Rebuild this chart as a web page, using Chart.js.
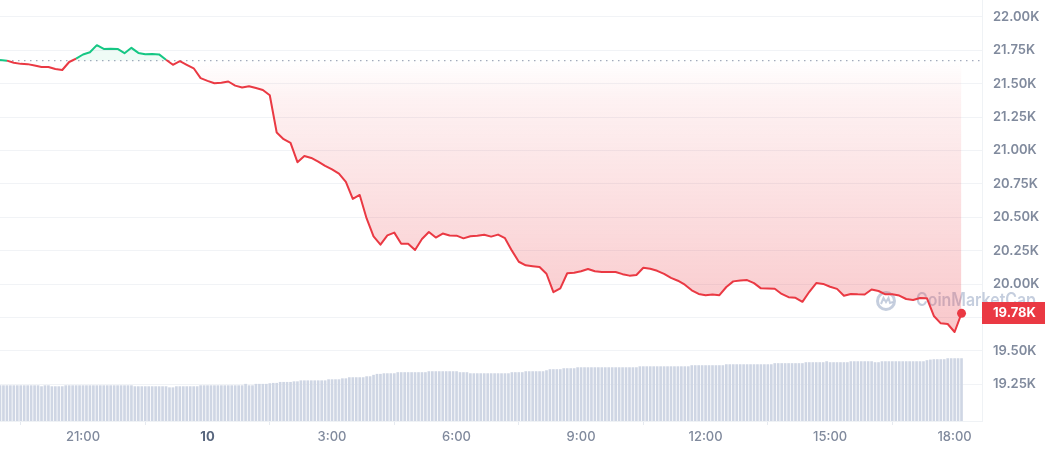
<!DOCTYPE html>
<html>
<head>
<meta charset="utf-8">
<script src="https://cdn.jsdelivr.net/npm/chart.js@4.4.0/dist/chart.umd.min.js"></script>
<style>
html, body { margin: 0; padding: 0; background: #fff; }
#wrap { position: relative; width: 1045px; height: 450px; }
</style>
</head>
<body>
<div id="wrap"><canvas id="priceChart"></canvas></div>
<script>
// time axis is in hours from 00:00 on the 9th, so 19 = 19:00, 24 = midnight ("10")
const startHour = 19;
const priceStepMin = 10;
const volumeStepMin = 5;
const openPrice = 21673;

const priceValues = [
    21678, 21673, 21657, 21649, 21647, 21636, 21626, 21625, 21610, 21603,
    21663, 21688, 21719, 21736, 21789, 21761, 21763, 21761, 21729, 21769,
    21731, 21721, 21723, 21720, 21680, 21642, 21669, 21642, 21616, 21542,
    21522, 21504, 21508, 21517, 21486, 21472, 21481, 21468, 21454, 21414,
    21135, 21085, 21057, 20913, 20959, 20945, 20917, 20886, 20859, 20828,
    20765, 20638, 20668, 20492, 20358, 20296, 20365, 20386, 20303, 20303,
    20256, 20338, 20391, 20349, 20379, 20364, 20363, 20343, 20359, 20362,
    20370, 20356, 20371, 20344, 20251, 20168, 20141, 20134, 20128, 20078,
    19940, 19969, 20082, 20086, 20097, 20114, 20097, 20091, 20092, 20091,
    20075, 20064, 20069, 20123, 20115, 20100, 20077, 20047, 20026, 19996,
    19954, 19927, 19918, 19923, 19918, 19979, 20021, 20028, 20031, 20008,
    19969, 19968, 19966, 19927, 19903, 19898, 19868, 19943, 20008, 20002,
    19981, 19965, 19914, 19927, 19924, 19923, 19960, 19949, 19924, 19924,
    19915, 19889, 19882, 19897, 19894, 19762, 19707, 19702, 19642, 19782
];

// 24h volume, billions USD
const volumeValues = [
    29.4, 29.4, 29.4, 29.4, 29.4, 29.4, 29.4, 29.4, 29.4, 29.4,
    29.4, 29.4, 28.6, 29.4, 29.4, 28.6, 28.6, 28.6, 28.6, 29.4,
    29.4, 29.4, 29.4, 29.4, 29.4, 29.4, 29.4, 29.4, 29.4, 29.4,
    29.4, 29.4, 29.4, 29.4, 29.4, 29.4, 29.4, 29.4, 29.4, 28.6,
    28.6, 28.6, 28.6, 28.6, 28.6, 28.6, 28.6, 28.6, 28.6, 27.7,
    27.7, 28.6, 28.6, 28.6, 28.6, 28.6, 28.6, 28.6, 29.4, 29.4,
    29.4, 29.4, 29.4, 29.4, 29.4, 29.4, 29.4, 29.4, 29.4, 29.4,
    29.4, 30.6, 29.4, 29.4, 30.6, 30.6, 30.6, 30.6, 31.1, 31.4,
    31.4, 32.2, 32.2, 32.2, 32.2, 32.7, 32.7, 33.5, 33.5, 33.5,
    33.5, 33.5, 33.5, 33.5, 33.5, 34.4, 34.4, 34.4, 34.4, 35.2,
    35.2, 36.1, 36.1, 36.1, 36.1, 36.1, 36.9, 36.9, 38.1, 38.9,
    38.9, 39.4, 39.4, 39.4, 39.4, 40.3, 40.3, 40.3, 40.3, 40.3,
    40.3, 40.3, 40.3, 40.3, 41.1, 41.1, 41.1, 41.1, 41.1, 41.1,
    41.1, 41.1, 41.1, 40.3, 40.3, 40.3, 39.4, 39.4, 39.4, 39.4,
    39.4, 39.4, 39.4, 39.4, 39.4, 39.4, 39.4, 39.4, 40.3, 40.3,
    40.3, 40.3, 41.1, 41.1, 41.1, 41.1, 41.1, 41.1, 41.9, 42.8,
    42.8, 42.8, 42.8, 43.6, 43.6, 43.6, 43.6, 44.4, 44.4, 44.4,
    44.4, 44.4, 44.4, 44.4, 44.4, 44.4, 44.4, 44.4, 44.4, 44.4,
    44.4, 44.4, 44.4, 44.4, 44.4, 45.2, 45.2, 45.2, 45.2, 45.2,
    45.2, 45.2, 45.2, 45.2, 45.2, 45.2, 45.2, 45.2, 45.2, 45.2,
    46.1, 46.1, 46.1, 46.1, 46.1, 46.1, 46.1, 46.1, 46.1, 46.1,
    46.9, 46.9, 46.9, 46.9, 46.9, 46.9, 46.9, 46.9, 46.9, 46.9,
    46.9, 46.9, 46.9, 46.9, 47.8, 47.8, 47.8, 47.8, 47.8, 47.8,
    47.8, 47.8, 47.8, 48.6, 48.6, 48.6, 48.6, 48.6, 48.6, 49.4,
    48.6, 48.6, 48.6, 48.6, 48.6, 48.6, 49.4, 49.4, 49.4, 49.4,
    49.4, 49.4, 49.4, 48.6, 48.6, 49.4, 49.4, 49.4, 49.4, 49.4,
    49.4, 49.4, 49.4, 49.4, 49.4, 49.4, 49.4, 49.4, 50.3, 50.8,
    51.1, 51.1, 51.1, 51.1, 51.9, 51.9, 51.9, 51.9, 51.9
];

const tickHours = [21, 24, 27, 30, 33, 36, 39, 42];
const tickLabels = ['21:00', '10', '3:00', '6:00', '9:00', '12:00', '15:00', '18:00'];
const priceTicks = [19250, 19500, 19750, 20000, 20250, 20500, 20750, 21000, 21250, 21500, 21750, 22000];

const red = '#ea3943';
const green = '#16c784';
const greyText = '#808a9d';
const gridCol = '#f1f3f6';

const toPoints = (values, stepMin) => values.map((v, i) => ({ x: startHour + i * stepMin / 60, y: v }));
const lastPrice = priceValues[priceValues.length - 1];
const xMax = 42.66;

Chart.defaults.font.family = "Inter, 'Noto Sans', sans-serif";

// labels may hang over the plot edges, like the original
const noPadding = (axis) => {
    axis.paddingTop = 0;
    axis.paddingBottom = 0;
    axis.paddingLeft = 0;
    axis.paddingRight = 0;
};

// watermark behind the line, current price tag on top
const overlayPlugin = {
    id: 'overlay',
    beforeDatasetsDraw(chart) {
        const ctx = chart.ctx, area = chart.chartArea;
        const cy = 301;
        const cx = area.right - 96;
        ctx.save();
        ctx.strokeStyle = 'rgba(150,166,195,0.55)';
        ctx.fillStyle = 'rgba(150,166,195,0.55)';
        ctx.lineWidth = 3;
        ctx.beginPath();
        ctx.arc(cx, cy, 8.5, 0, Math.PI * 2);
        ctx.stroke();
        ctx.lineWidth = 2;
        ctx.beginPath();
        ctx.moveTo(cx - 5, cy + 3);
        ctx.lineTo(cx - 2.5, cy - 3);
        ctx.lineTo(cx, cy + 1);
        ctx.lineTo(cx + 2.5, cy - 3);
        ctx.lineTo(cx + 4, cy + 2);
        ctx.lineTo(cx + 7, cy + 1);
        ctx.stroke();
        ctx.font = "600 18px Inter, 'Noto Sans', sans-serif";
        ctx.textBaseline = 'middle';
        ctx.fillText('CoinMarketCap', area.right - 66, cy, 120);
        ctx.restore();
    },
    afterDraw(chart) {
        const ctx = chart.ctx, area = chart.chartArea;
        const y = chart.scales.y.getPixelForValue(lastPrice);
        ctx.save();
        ctx.fillStyle = red;
        ctx.fillRect(area.right, Math.round(y) - 11, chart.width - area.right, 22);
        ctx.fillStyle = '#fff';
        ctx.font = "700 13px Inter, 'Noto Sans', sans-serif";
        ctx.textBaseline = 'middle';
        ctx.fillText((lastPrice / 1000).toFixed(2) + 'K', area.right + 11, Math.round(y) + 0.5);
        ctx.restore();
    }
};

new Chart(document.getElementById('priceChart'), {
    type: 'line',
    data: {
        datasets: [
            {
                label: 'Price',
                data: toPoints(priceValues, priceStepMin),
                yAxisID: 'y',
                order: 0,
                borderWidth: 2,
                borderColor: red,
                borderJoinStyle: 'round',
                tension: 0,
                segment: {
                    borderColor: (c) => (c.p0.parsed.y >= openPrice && c.p1.parsed.y >= openPrice) ? green : red
                },
                fill: { target: { value: openPrice }, above: 'rgba(22,199,132,0.07)' },
                backgroundColor: (c) => {
                    const chart = c.chart;
                    const s = chart.scales.y;
                    if (!chart.chartArea || !s) return 'rgba(234,57,67,0.15)';
                    const top = s.getPixelForValue(openPrice);
                    const bottom = s.getPixelForValue(Math.min(...priceValues));
                    const g = chart.ctx.createLinearGradient(0, top, 0, bottom);
                    g.addColorStop(0, 'rgba(234,57,67,0.0)');
                    g.addColorStop(0.15, 'rgba(234,57,67,0.07)');
                    g.addColorStop(1, 'rgba(234,57,67,0.28)');
                    return g;
                },
                pointRadius: (c) => c.dataIndex === priceValues.length - 1 ? 4.5 : 0,
                pointBackgroundColor: red,
                pointBorderWidth: 0
            },
            {
                label: 'Open',
                data: [{ x: startHour, y: openPrice }, { x: xMax, y: openPrice }],
                yAxisID: 'y',
                order: 1,
                borderColor: '#a4abbd',
                borderWidth: 1.2,
                borderDash: [1.5, 4.5],
                pointRadius: 0,
                fill: false
            },
            {
                type: 'bar',
                label: 'Volume',
                data: toPoints(volumeValues, volumeStepMin),
                yAxisID: 'vol',
                order: 2,
                backgroundColor: '#cfd6e4',
                borderWidth: 0,
                barThickness: 2
            }
        ]
    },
    options: {
        responsive: true,
        maintainAspectRatio: false,
        animation: false,
        events: [],
        layout: { padding: 0, autoPadding: false },
        plugins: {
            legend: { display: false },
            tooltip: { enabled: false }
        },
        scales: {
            x: {
                type: 'linear',
                min: startHour,
                max: xMax,
                offset: false,
                afterBuildTicks: (axis) => { axis.ticks = tickHours.map(v => ({ value: v })); },
                afterFit: (axis) => { axis.height = 29; noPadding(axis); },
                grid: { drawOnChartArea: false, drawTicks: true, tickLength: 4, color: '#e6eaf0' },
                border: { display: true, color: '#eff2f5' },
                ticks: {
                    autoSkip: false,
                    maxRotation: 0,
                    padding: 4,
                    color: (c) => c.tick && c.tick.value === 24 ? '#58667e' : greyText,
                    font: (c) => c.tick && c.tick.value === 24 ? { size: 13, weight: '700' } : { size: 13, weight: '500' },
                    callback: (value) => tickLabels[tickHours.indexOf(value)]
                }
            },
            y: {
                position: 'right',
                min: 18976,
                max: 22127,
                afterBuildTicks: (axis) => { axis.ticks = priceTicks.map(v => ({ value: v })); },
                afterFit: (axis) => { axis.width = 63; noPadding(axis); },
                grid: { color: gridCol, drawTicks: false },
                border: { display: true, color: '#eff2f5' },
                ticks: {
                    padding: 11,
                    color: greyText,
                    font: { size: 13, weight: '600' },
                    callback: (value) => (value / 1000).toFixed(2) + 'K'
                }
            },
            vol: {
                display: false,
                min: 0,
                max: 350
            }
        }
    },
    plugins: [overlayPlugin]
});
</script>
</body>
</html>
